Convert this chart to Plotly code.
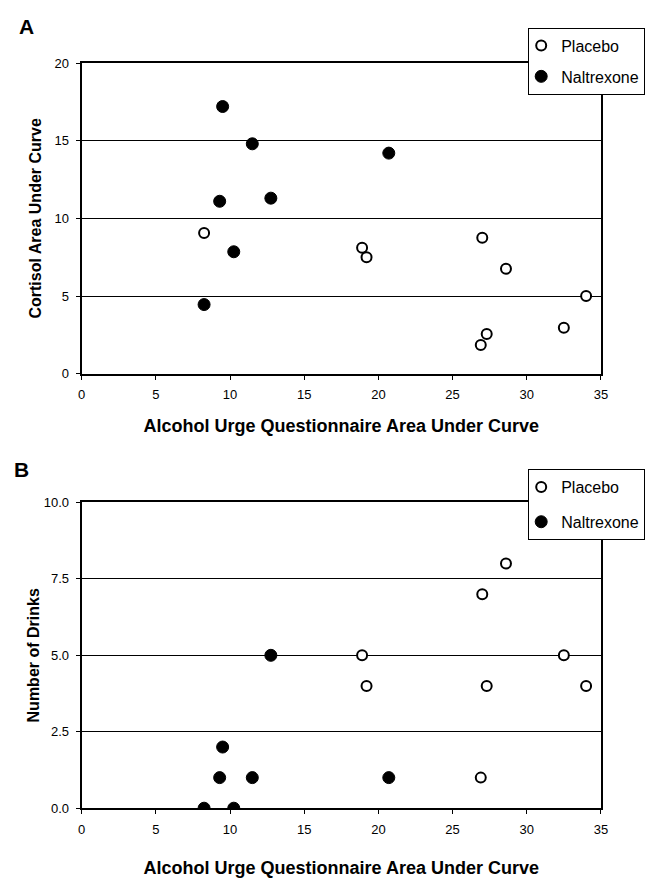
import plotly.graph_objects as go

# ---- data ----
# Panel A: Alcohol Urge Questionnaire AUC vs Cortisol AUC
a_placebo_x = [8.25, 18.9, 19.2, 27.0, 28.6, 26.9, 27.3, 32.5, 34.0]
a_placebo_y = [9.05, 8.1, 7.5, 8.75, 6.75, 1.85, 2.55, 2.95, 5.0]
a_naltrexone_x = [9.5, 11.5, 20.7, 9.3, 12.75, 10.25, 8.25]
a_naltrexone_y = [17.2, 14.8, 14.2, 11.1, 11.3, 7.85, 4.45]

# Panel B: Alcohol Urge Questionnaire AUC vs Number of Drinks
b_placebo_x = [28.6, 27.0, 18.9, 19.2, 27.3, 32.5, 34.0, 26.9]
b_placebo_y = [8, 7, 5, 4, 4, 5, 4, 1]
b_naltrexone_x = [12.75, 9.5, 9.3, 11.5, 20.7, 8.25, 10.25]
b_naltrexone_y = [5, 2, 1, 1, 1, 0, 0]

x_ticks = [0, 5, 10, 15, 20, 25, 30, 35]
a_y_ticks = [0, 5, 10, 15, 20]
b_y_ticks = [0, 2.5, 5, 7.5, 10]
b_y_ticklabels = ["0.0", "2.5", "5.0", "7.5", "10.0"]

x_title = "Alcohol Urge Questionnaire Area Under Curve"
a_y_title = "Cortisol Area Under Curve"
b_y_title = "Number of Drinks"

FONT = "Arial, Liberation Sans, sans-serif"
W, H = 664, 885

def px_x(p):
    return p / W

def px_y(p):
    return 1 - p / H

placebo_marker = dict(symbol="circle", color="white", size=10,
                      line=dict(color="black", width=2))
naltrexone_marker = dict(symbol="circle", color="black", size=12,
                         line=dict(color="black", width=1))

fig = go.Figure()
fig.add_trace(go.Scatter(x=a_placebo_x, y=a_placebo_y, mode="markers",
                         name="Placebo", marker=placebo_marker,
                         xaxis="x", yaxis="y", legend="legend", legendgroup="pa"))
fig.add_trace(go.Scatter(x=a_naltrexone_x, y=a_naltrexone_y, mode="markers",
                         name="Naltrexone", marker=naltrexone_marker,
                         xaxis="x", yaxis="y", legend="legend", legendgroup="na"))
fig.add_trace(go.Scatter(x=b_placebo_x, y=b_placebo_y, mode="markers",
                         name="Placebo", marker=placebo_marker,
                         xaxis="x2", yaxis="y2", legend="legend2", legendgroup="pb"))
fig.add_trace(go.Scatter(x=b_naltrexone_x, y=b_naltrexone_y, mode="markers",
                         name="Naltrexone", marker=naltrexone_marker,
                         xaxis="x2", yaxis="y2", legend="legend2", legendgroup="nb"))

xdom = [px_x(79), px_x(607)]
common_x = dict(range=[0, 35], tickvals=x_ticks, showgrid=False, zeroline=False,
                showline=True, linecolor="black", linewidth=2, mirror=True,
                ticks="outside", ticklen=4, tickwidth=1, tickcolor="black",
                tickfont=dict(family=FONT, size=13, color="black"),
                ticklabelstandoff=4, domain=xdom)
xtitle_font = dict(family=FONT, size=18, color="black")
common_y = dict(showgrid=True, gridcolor="black", gridwidth=1, zeroline=False,
                showline=True, linecolor="black", linewidth=2, mirror=True,
                ticks="outside", ticklen=4, tickwidth=1, tickcolor="black",
                tickfont=dict(family=FONT, size=13, color="black"),
                ticklabelstandoff=4)

legend_common = dict(xanchor="right", yanchor="top",
                     bgcolor="white", bordercolor="black", borderwidth=1,
                     font=dict(family=FONT, size=16, color="black"),
                     itemwidth=30, indentation=-8)

fig.update_layout(
    width=W, height=H,
    margin=dict(l=0, r=0, t=0, b=0),
    paper_bgcolor="white", plot_bgcolor="white",
    font=dict(family=FONT, color="black"),
    xaxis=dict(common_x, anchor="y",
               title=dict(text="<b>" + x_title + "</b>", standoff=18,
                          font=xtitle_font)),
    yaxis=dict(common_y, range=[0, 20], tickvals=a_y_ticks,
               domain=[px_y(373), px_y(57)], anchor="x",
               title=dict(text="<b>" + a_y_title + "</b>", standoff=9,
                          font=dict(family=FONT, size=16, color="black"))),
    xaxis2=dict(common_x, anchor="y2",
                title=dict(text="<b>" + x_title + "</b>", standoff=26,
                           font=xtitle_font)),
    yaxis2=dict(common_y, range=[0, 10], tickvals=b_y_ticks,
                ticktext=b_y_ticklabels,
                domain=[px_y(815), px_y(504)], anchor="x2",
                title=dict(text="<b>" + b_y_title + "</b>", standoff=0,
                           font=dict(family=FONT, size=16, color="black"))),
    legend=dict(legend_common, x=px_x(652), y=px_y(21), tracegroupgap=7),
    legend2=dict(legend_common, x=px_x(652), y=px_y(470), tracegroupgap=11),
    annotations=[
        dict(text="<b>A</b>", x=px_x(13), y=px_y(20), xref="paper", yref="paper",
             xanchor="left", yanchor="middle", showarrow=False,
             font=dict(family=FONT, size=21, color="black")),
        dict(text="<b>B</b>", x=px_x(8), y=px_y(470), xref="paper", yref="paper",
             xanchor="left", yanchor="middle", showarrow=False,
             font=dict(family=FONT, size=21, color="black")),
    ],
)

fig.write_html("out.html")
